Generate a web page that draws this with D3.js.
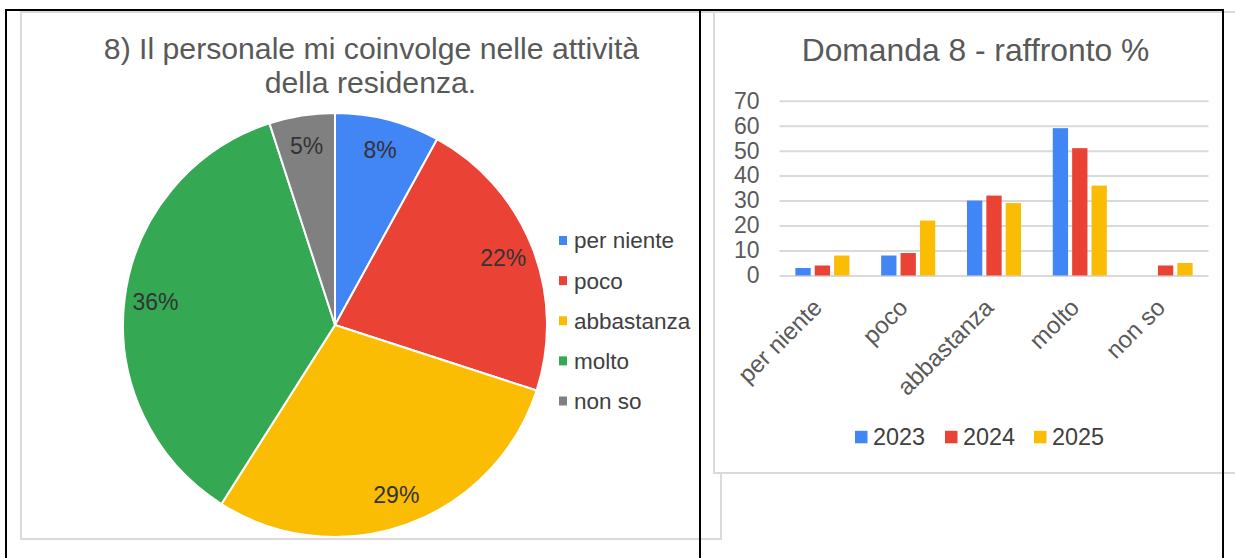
<!DOCTYPE html>
<html>
<head>
<meta charset="utf-8">
<script src="https://cdn.jsdelivr.net/npm/d3@7"></script>
<style>
  body { margin: 0; background: #fff; }
  svg { display: block; font-family: "Liberation Sans", Arial, sans-serif; }
</style>
</head>
<body>
<svg id="chart" width="1235" height="558"></svg>
<script>
'use strict';

// answers (same categories in both charts)
var categories = ["per niente", "poco", "abbastanza", "molto", "non so"];
var colors = ["#4285F4", "#EA4335", "#FBBC04", "#34A853", "#808080"];

// pie: question 8, current year (%)
var pieValues = [8, 22, 29, 36, 5];

// bars: comparison by year (%)
var years = ["2023", "2024", "2025"];
var yearColors = ["#4285F4", "#EA4335", "#FBBC04"];
var values2023 = [3, 8, 30, 59, null];
var values2024 = [4, 9, 32, 51, 4];
var values2025 = [8, 22, 29, 36, 5];
var yTicks = [0, 10, 20, 30, 40, 50, 60, 70];

var svg = d3.select("#chart");

// ---- boxes of the two charts --------------------------------------------
svg.append("rect")
  .attr("x", 21).attr("y", 12).attr("width", 700).attr("height", 527)
  .attr("fill", "#fff").attr("stroke", "#dadada").attr("stroke-width", 2);

svg.append("rect")
  .attr("x", 714).attr("y", 12).attr("width", 540).attr("height", 461)
  .attr("fill", "#fff").attr("stroke", "#dadada").attr("stroke-width", 2);

// ---- pie chart ------------------------------------------------------------
var pieG = svg.append("g");

pieG.append("text")
  .attr("x", 371.5).attr("y", 59)
  .attr("text-anchor", "middle")
  .style("font-size", "30.2px").style("fill", "#595959")
  .text("8) Il personale mi coinvolge nelle attività");
pieG.append("text")
  .attr("x", 370.5).attr("y", 93)
  .attr("text-anchor", "middle")
  .style("font-size", "30.2px").style("fill", "#595959")
  .text("della residenza.");

var cx = 335, cy = 325, radius = 212;
var pie = d3.pie().sort(null).value(function(d) { return d; });
var arc = d3.arc().innerRadius(0).outerRadius(radius);
var labelArc = d3.arc().innerRadius(181).outerRadius(181);
var arcs = pie(pieValues);

var slices = pieG.append("g").attr("transform", "translate(" + cx + "," + cy + ")");
slices.selectAll("path")
  .data(arcs)
  .enter().append("path")
  .attr("d", arc)
  .attr("fill", function(d, i) { return colors[i]; })
  .attr("stroke", "#fff")
  .attr("stroke-width", 2);

slices.selectAll("text")
  .data(arcs)
  .enter().append("text")
  .attr("transform", function(d) { return "translate(" + labelArc.centroid(d) + ")"; })
  .attr("text-anchor", "middle")
  .attr("dy", "0.35em")
  .style("font-size", "23px").style("fill", "#333")
  .text(function(d) { return d.data + "%"; });

// pie legend
var legendY = d3.scalePoint().domain(categories).range([240.5, 401]);
var pieLegend = pieG.append("g").selectAll("g")
  .data(categories)
  .enter().append("g")
  .attr("transform", function(d) { return "translate(559," + legendY(d) + ")"; });
pieLegend.append("rect")
  .attr("x", 0).attr("y", -4.5).attr("width", 8).attr("height", 9)
  .attr("fill", function(d, i) { return colors[i]; });
pieLegend.append("text")
  .attr("x", 15).attr("dy", "0.35em")
  .style("font-size", "22.5px").style("fill", "#404040")
  .text(function(d) { return d; });

// ---- bar chart ------------------------------------------------------------
var barG = svg.append("g");

barG.append("text")
  .attr("x", 975.5).attr("y", 61)
  .attr("text-anchor", "middle")
  .style("font-size", "31.8px").style("fill", "#595959")
  .text("Domanda 8 - raffronto %");

var x = d3.scaleBand().domain(categories).range([779.5, 1208.5])
  .paddingInner(0.37).paddingOuter(0.185);
var xInner = d3.scaleBand().domain(years).range([0, x.bandwidth()])
  .paddingInner(0.21).paddingOuter(0);
var y = d3.scaleLinear().domain([0, 70]).range([275.5, 100.7]);

// gridlines + tick labels
var yAxis = d3.axisLeft(y).tickValues(yTicks)
  .tickSize(-(1208.5 - 779.5)).tickPadding(20);
var yAxisG = barG.append("g")
  .attr("transform", "translate(779.5,0)")
  .call(yAxis);
yAxisG.select(".domain").remove();
yAxisG.selectAll(".tick line").attr("stroke", "#d9d9d9").attr("stroke-width", 2);
yAxisG.selectAll(".tick text")
  .attr("font-family", null).attr("font-size", null)
  .style("font-size", "23px").style("fill", "#5a5a5a");

// bars
var series = [values2023, values2024, values2025];
var groups = barG.append("g").selectAll("g")
  .data(categories)
  .enter().append("g")
  .attr("transform", function(d) { return "translate(" + x(d) + ",0)"; });
groups.selectAll("rect")
  .data(function(d, ci) {
    return years.map(function(yr, si) { return {year: yr, si: si, value: series[si][ci]}; })
      .filter(function(e) { return e.value != null; });
  })
  .enter().append("rect")
  .attr("x", function(d) { return xInner(d.year); })
  .attr("y", function(d) { return y(d.value); })
  .attr("width", xInner.bandwidth())
  .attr("height", function(d) { return y(0) - y(d.value); })
  .attr("fill", function(d) { return yearColors[d.si]; });

// category labels (rotated)
barG.append("g").selectAll("text")
  .data(categories)
  .enter().append("text")
  .attr("transform", function(d) {
    return "translate(" + (x(d) + x.bandwidth() / 2 + 1) + ",309) rotate(-45)";
  })
  .attr("text-anchor", "end")
  .style("font-size", "24px").style("fill", "#595959")
  .text(function(d) { return d; });

// bar legend
var legendX = [855, 945, 1034];
var barLegend = barG.append("g").selectAll("g")
  .data(years)
  .enter().append("g")
  .attr("transform", function(d, i) { return "translate(" + legendX[i] + ",437)"; });
barLegend.append("rect")
  .attr("x", 0).attr("y", -6.2).attr("width", 12.5).attr("height", 12.5)
  .attr("fill", function(d, i) { return yearColors[i]; });
barLegend.append("text")
  .attr("x", 18).attr("y", 7.5)
  .style("font-size", "23.4px").style("fill", "#404040")
  .text(function(d) { return d; });

// ---- table lines of the page around the charts ---------------------------
var table = svg.append("g").attr("stroke", "#000").attr("stroke-width", 2);
table.append("line").attr("x1", 5).attr("x2", 1224).attr("y1", 10).attr("y2", 10);
table.append("line").attr("x1", 6).attr("x2", 6).attr("y1", 9).attr("y2", 558);
table.append("line").attr("x1", 700).attr("x2", 700).attr("y1", 9).attr("y2", 558);
table.append("line").attr("x1", 1223).attr("x2", 1223).attr("y1", 9).attr("y2", 558);
</script>
</body>
</html>
